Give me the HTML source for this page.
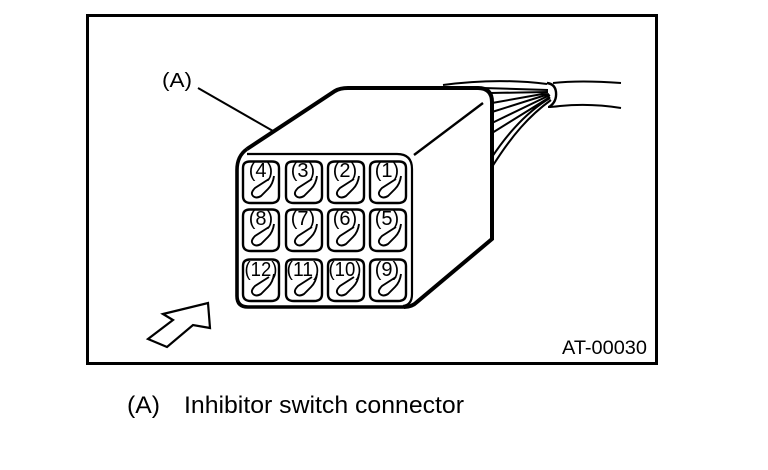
<!DOCTYPE html>
<html><head><meta charset="utf-8"><style>
html,body{margin:0;padding:0;background:#fff}
svg{display:block}
text{font-family:"Liberation Sans",Arial,sans-serif;fill:#000}
</style></head><body>
<svg width="768" height="470" viewBox="0 0 768 470" xmlns="http://www.w3.org/2000/svg">
<defs>
<g id="c" fill="none" stroke="#000">
<path d="M8 1.5H30Q37 1.5 37 8V36Q37 43 29 43H9Q1 43 1 36V8Q1 1.5 8 1.5Z" stroke-width="2.4"/>
<path d="M27 19L13 28Q8 33 11 36Q14 39 19 36L26 29Q31 24 32 16" stroke-width="1.9"/>
</g>
</defs>
<rect x="87.5" y="15.5" width="569" height="348" fill="none" stroke="#000" stroke-width="3"/>
<text x="162" y="87" font-size="20" textLength="30" lengthAdjust="spacingAndGlyphs">(A)</text>
<path d="M198 88L273 131" stroke="#000" stroke-width="2" fill="none"/>
<g fill="none" stroke="#000">
<path d="M247 149L335 91Q340 88 348 88H478Q492 88 492 102V239L417 302Q412 307 404 307" stroke-width="4"/>
<path d="M247 149Q237 156 237 170V296Q237 307 248 307H404" stroke-width="3.6"/>
<path d="M247 154H397Q412 154 412 169V294Q412 305 403 306" stroke-width="2.2"/>
<path d="M414 155L483 103" stroke-width="2.4"/>
<path d="M443 85C480 80 515 80 547 84M483 88L548 90M490 93L548 92M492 103L548 93M492 112L549 94M492 123L550 95M492 133L550 97M492 157C510 130 530 110 550 98M492 167C512 135 530 115 551 100" stroke-width="2"/>
<path d="M547 83Q555 84 556 92Q557 102 549 107" stroke-width="2.4"/>
<path d="M553 83Q580 80 621 83M548 107Q552 107 560 106Q590 103 621 108" stroke-width="2"/>
</g>
<use href="#c" x="242" y="160"/><use href="#c" x="285" y="160"/><use href="#c" x="327" y="160"/><use href="#c" x="369" y="160"/>
<use href="#c" x="242" y="208"/><use href="#c" x="285" y="208"/><use href="#c" x="327" y="208"/><use href="#c" x="369" y="208"/>
<use href="#c" x="242" y="258"/><use href="#c" x="285" y="258"/><use href="#c" x="327" y="258"/><use href="#c" x="369" y="258"/>
<g font-size="20" text-anchor="middle">
<text x="261" y="177">(4)</text><text x="303" y="177">(3)</text><text x="345" y="177">(2)</text><text x="387" y="177">(1)</text>
<text x="261" y="225">(8)</text><text x="303" y="225">(7)</text><text x="345" y="225">(6)</text><text x="387" y="225">(5)</text>
<text x="261" y="276" textLength="33" lengthAdjust="spacingAndGlyphs">(12)</text><text x="303" y="276" textLength="33" lengthAdjust="spacingAndGlyphs">(11)</text><text x="345" y="276" textLength="33" lengthAdjust="spacingAndGlyphs">(10)</text><text x="387" y="276">(9)</text>
</g>
<path d="M163 314L208 303L210 328L193 325L167 347L148 339L173 320L163 314Z" fill="#fff" stroke="#000" stroke-width="2.2"/>
<text x="562" y="354" font-size="19.5" textLength="85" lengthAdjust="spacingAndGlyphs">AT-00030</text>
<text x="127" y="413" font-size="24" textLength="33" lengthAdjust="spacingAndGlyphs">(A)</text>
<text x="184" y="413" font-size="24" textLength="280" lengthAdjust="spacingAndGlyphs">Inhibitor switch connector</text>
</svg>
</body></html>
